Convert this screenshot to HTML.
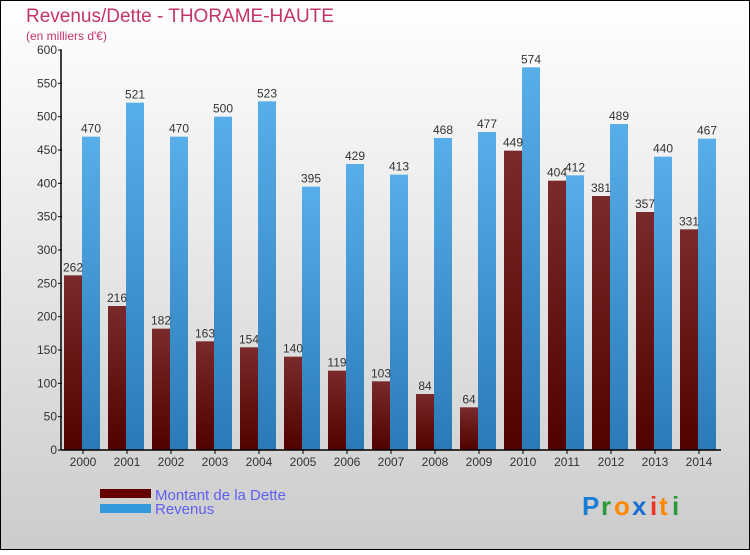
<!DOCTYPE html>
<html><head><meta charset="utf-8"><style>
html,body{margin:0;padding:0}
body{width:750px;height:550px;overflow:hidden;font-family:"Liberation Sans",sans-serif}
</style></head><body>
<svg id="chart" width="750" height="550" xmlns="http://www.w3.org/2000/svg" font-family="Liberation Sans, sans-serif">
<defs>
<linearGradient id="bg" x1="0" y1="0" x2="0" y2="1"><stop offset="0" stop-color="#ffffff"/><stop offset="1" stop-color="#cccccc"/></linearGradient>
<linearGradient id="gd" x1="0" y1="0" x2="0" y2="1"><stop offset="0" stop-color="#7a2a2a"/><stop offset="1" stop-color="#520000"/></linearGradient>
<linearGradient id="gr" x1="0" y1="0" x2="0" y2="1"><stop offset="0" stop-color="#58aee8"/><stop offset="1" stop-color="#2a7ab8"/></linearGradient>
</defs>
<rect x="0.5" y="0.5" width="749" height="549" fill="url(#bg)" stroke="#000"/>
<text x="26" y="22" font-size="19" fill="#c4336a">Revenus/Dette - THORAME-HAUTE</text>
<text x="26" y="40" font-size="12" fill="#c4336a">(en milliers d'€)</text>
<g id="grid"></g>
<g id="bars"></g>
<g id="axes"></g>
<g>
<rect x="100" y="489" width="51" height="9" fill="#660000"/>
<text x="155" y="500" font-size="15" fill="#5f5ff0">Montant de la Dette</text>
<rect x="100" y="504" width="51" height="9" fill="#3399dd"/>
<text x="155" y="514" font-size="15" fill="#5f5ff0">Revenus</text>
</g>
<g font-size="26" font-weight="bold">
<text x="582" y="515" fill="#1a7fd4">P</text><text x="601" y="515" fill="#2a9a3a">r</text><text x="614" y="515" fill="#ff8800">o</text><text x="632" y="515" fill="#1a6fd4">x</text><text x="650" y="515" fill="#ee3322">i</text><text x="659" y="515" fill="#ff8800">t</text><text x="672" y="515" fill="#2a9a3a">i</text>
</g>
</svg>
<script>
const years=["2000","2001","2002","2003","2004","2005","2006","2007","2008","2009","2010","2011","2012","2013","2014"];
const dette=[262,216,182,163,154,140,119,103,84,64,449,404,381,357,331];
const revenus=[470,521,470,500,523,395,429,413,468,477,574,412,489,440,467];
const yTicks=[0,50,100,150,200,250,300,350,400,450,500,550,600];
const NS="http://www.w3.org/2000/svg";
const x0=61,gw=44,y0=450,yMax=600,ph=400;
const y=v=>y0-v/yMax*ph;
const gx=i=>x0+i*gw;
function mk(t,a,p){const e=document.createElementNS(NS,t);for(const k in a)e.setAttribute(k,a[k]);p.appendChild(e);return e;}
const bars=document.getElementById('bars'),axes=document.getElementById('axes');
years.forEach((yr,i)=>{
 const bx=gx(i)+3;
 const d=mk('rect',{x:bx,y:y(dette[i]),width:18,height:y0-y(dette[i]),fill:'url(#gd)'},bars);
 
 
 const r=mk('rect',{x:bx+18,y:y(revenus[i]),width:18,height:y0-y(revenus[i]),fill:'url(#gr)'},bars);
 
 
 const t1=mk('text',{x:bx+9,y:y(dette[i])-4,'font-size':12,fill:'#333','text-anchor':'middle'},bars);t1.textContent=dette[i];
 
 
 const t2=mk('text',{x:bx+27,y:y(revenus[i])-4,'font-size':12,fill:'#333','text-anchor':'middle'},bars);t2.textContent=revenus[i];
 
 
 const tl=mk('text',{x:gx(i)+22,y:y0+16,'font-size':12,fill:'#333','text-anchor':'middle'},axes);tl.textContent=yr;
 
 
 mk('line',{x1:gx(i)+22,x2:gx(i)+22,y1:y0,y2:y0+4,stroke:'#000'},axes);
});
yTicks.forEach(v=>{
 mk('line',{x1:x0-3,x2:x0+1,y1:y(v),y2:y(v),stroke:'#000'},axes);
 const t=mk('text',{x:x0-4,y:y(v)+4,'font-size':12,fill:'#333','text-anchor':'end'},axes);t.textContent=v;
 
 
});
const ya=mk('line',{x1:x0,x2:x0,y1:y(yMax),y2:y0,stroke:'#000','stroke-width':1.5},axes);


const xa=mk('line',{x1:x0,x2:x0+years.length*gw,y1:y0,y2:y0,stroke:'#000','stroke-width':1.5},axes);


</script>
</body></html>
